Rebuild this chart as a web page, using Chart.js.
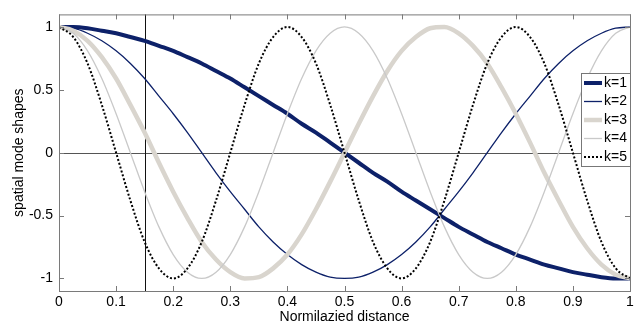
<!DOCTYPE html>
<html lang="en">
<head>
<meta charset="UTF-8">
<title>Spatial mode shapes</title>
<script src="https://cdn.jsdelivr.net/npm/chart.js"></script>
<style>
  body { margin: 0; background: #fff; }
  canvas { display: block; }
</style>
</head>
<body>
<canvas id="modeChart" width="643" height="331"></canvas>
<script>
// normalized distance samples (step 0.025)
const distance = [0,0.025,0.05,0.075,0.1,0.125,0.15,0.175,0.2,0.225,0.25,0.275,0.3,0.325,0.35,0.375,0.4,0.425,0.45,0.475,
                  0.5,0.525,0.55,0.575,0.6,0.625,0.65,0.675,0.7,0.725,0.75,0.775,0.8,0.825,0.85,0.875,0.9,0.925,0.95,0.975,1];

// mode shapes
const k1 = [1,1,0.99,0.97,0.95,0.92,0.89,0.85,0.81,0.76,0.71,0.65,0.59,0.52,0.45,0.38,0.31,0.23,0.16,0.08,
            0,-0.08,-0.16,-0.23,-0.31,-0.38,-0.45,-0.52,-0.59,-0.65,-0.71,-0.76,-0.81,-0.85,-0.89,-0.92,-0.95,-0.97,-0.99,-1,-1];
const k2 = [1,0.99,0.95,0.89,0.81,0.71,0.59,0.45,0.31,0.16,0,-0.16,-0.31,-0.45,-0.59,-0.71,-0.81,-0.89,-0.95,-0.99,
            -1,-0.99,-0.95,-0.89,-0.81,-0.71,-0.59,-0.45,-0.31,-0.16,0,0.16,0.31,0.45,0.59,0.71,0.81,0.89,0.95,0.99,1];
const k3 = [1,0.97,0.89,0.76,0.59,0.38,0.16,-0.08,-0.31,-0.52,-0.71,-0.85,-0.95,-1,-0.99,-0.92,-0.81,-0.65,-0.45,-0.23,
            0,0.23,0.45,0.65,0.81,0.92,0.99,1,0.95,0.85,0.71,0.52,0.31,0.08,-0.16,-0.38,-0.59,-0.76,-0.89,-0.97,-1];
const k4 = [1,0.95,0.81,0.59,0.31,0,-0.31,-0.59,-0.81,-0.95,-1,-0.95,-0.81,-0.59,-0.31,0,0.31,0.59,0.81,0.95,
            1,0.95,0.81,0.59,0.31,0,-0.31,-0.59,-0.81,-0.95,-1,-0.95,-0.81,-0.59,-0.31,0,0.31,0.59,0.81,0.95,1];
const k5 = [1,0.92,0.71,0.38,0,-0.38,-0.71,-0.92,-1,-0.92,-0.71,-0.38,0,0.38,0.71,0.92,1,0.92,0.71,0.38,
            0,-0.38,-0.71,-0.92,-1,-0.92,-0.71,-0.38,0,0.38,0.71,0.92,1,0.92,0.71,0.38,0,-0.38,-0.71,-0.92,-1];

const xTicks = [0,0.1,0.2,0.3,0.4,0.5,0.6,0.7,0.8,0.9,1];
const yTicks = [-1,-0.5,0,0.5,1];
const markerX = 0.15;

const FONT = { family: 'Arial, "Liberation Sans", sans-serif', size: 14 };

function toPoints(values) {
    return values.map((v, i) => ({ x: distance[i], y: v }));
}

function series(label, values, color, width, dash, order) {
    return {
        label: label,
        data: toPoints(values),
        borderColor: color,
        backgroundColor: color,
        borderWidth: width,
        borderDash: dash,
        pointRadius: 0,
        fill: false,
        cubicInterpolationMode: 'monotone',
        order: order
    };
}

// zero line + vertical marker, under the curves
const guideLines = {
    id: 'guideLines',
    beforeDatasetsDraw(chart) {
        const { ctx, chartArea: a, scales: { x, y } } = chart;
        ctx.save();
        ctx.lineWidth = 1;
        ctx.strokeStyle = '#555';
        const y0 = Math.round(y.getPixelForValue(0)) + 0.5;
        ctx.beginPath(); ctx.moveTo(a.left, y0); ctx.lineTo(a.right, y0); ctx.stroke();
        ctx.strokeStyle = '#111';
        const xm = Math.round(x.getPixelForValue(markerX)) + 0.5;
        ctx.beginPath(); ctx.moveTo(xm, a.top); ctx.lineTo(xm, a.bottom); ctx.stroke();
        ctx.restore();
    }
};

// matlab style box with inward ticks
const frame = {
    id: 'frame',
    afterDatasetsDraw(chart) {
        const { ctx, chartArea: a, scales: { x, y } } = chart;
        const tl = 5;
        ctx.save();
        ctx.strokeStyle = '#7a7a7a';
        ctx.lineWidth = 1;
        ctx.strokeRect(a.left + 0.5, a.top + 0.5, a.right - a.left, a.bottom - a.top);
        ctx.beginPath();
        xTicks.forEach(v => {
            const px = Math.round(x.getPixelForValue(v)) + 0.5;
            ctx.moveTo(px, a.bottom); ctx.lineTo(px, a.bottom - tl);
            ctx.moveTo(px, a.top); ctx.lineTo(px, a.top + tl);
        });
        yTicks.forEach(v => {
            const py = Math.round(y.getPixelForValue(v)) + 0.5;
            ctx.moveTo(a.left, py); ctx.lineTo(a.left + tl, py);
            ctx.moveTo(a.right, py); ctx.lineTo(a.right - tl, py);
        });
        ctx.stroke();
        ctx.restore();
    }
};

// legend box inside the axes, right side
const boxLegend = {
    id: 'boxLegend',
    afterDraw(chart) {
        const { ctx, chartArea: a } = chart;
        const sets = chart.data.datasets;
        const w = 49, rowH = 18.5, top = 73;
        const left = a.right - w;
        const h = rowH * sets.length + 0.5;
        ctx.save();
        ctx.fillStyle = '#fff';
        ctx.fillRect(left, top, w, h);
        ctx.strokeStyle = '#777';
        ctx.lineWidth = 1;
        ctx.strokeRect(left + 0.5, top + 0.5, w, h);
        ctx.font = FONT.size + 'px ' + FONT.family;
        ctx.textBaseline = 'middle';
        ctx.fillStyle = '#000';
        sets.forEach((ds, i) => {
            const cy = top + 10 + i * rowH;
            ctx.strokeStyle = ds.borderColor;
            ctx.lineWidth = ds.borderWidth;
            ctx.setLineDash(ds.borderDash || []);
            ctx.beginPath(); ctx.moveTo(left + 3, cy); ctx.lineTo(left + 21, cy); ctx.stroke();
            ctx.setLineDash([]);
            ctx.fillText(ds.label, left + 23, cy);
        });
        ctx.restore();
    }
};

new Chart(document.getElementById('modeChart'), {
    type: 'line',
    data: {
        datasets: [
            series('k=1', k1, '#0d2169', 4, [], 4),
            series('k=2', k2, '#0d2169', 1.3, [], 3),
            series('k=3', k3, '#d9d5ce', 4.5, [], 2),
            series('k=4', k4, '#c9c9c9', 1.3, [], 1),
            series('k=5', k5, '#000000', 2, [2, 2], 0)
        ]
    },
    options: {
        responsive: false,
        animation: false,
        layout: { padding: { top: 4, right: 13, left: 0, bottom: 0 } },
        plugins: { legend: { display: false }, tooltip: { enabled: false } },
        scales: {
            x: {
                type: 'linear',
                min: 0,
                max: 1,
                afterBuildTicks: s => { s.ticks = xTicks.map(v => ({ value: v })); },
                afterFit: s => { s.height = 40; },
                grid: { display: false, drawTicks: false },
                border: { display: false },
                ticks: { color: '#000', font: FONT, padding: 3, maxRotation: 0, autoSkip: false, callback: v => String(v) },
                title: { display: true, text: 'Normilazied distance', color: '#000', font: FONT, padding: { top: 0, bottom: 5 } }
            },
            y: {
                type: 'linear',
                min: -1.1,
                max: 1.1,
                afterBuildTicks: s => { s.ticks = yTicks.map(v => ({ value: v })); },
                afterFit: s => { s.width = 59; },
                grid: { display: false, drawTicks: false },
                border: { display: false },
                ticks: { color: '#000', font: FONT, padding: 6, callback: v => String(v) },
                title: { display: true, text: 'spatial mode shapes', color: '#000', font: FONT, padding: { top: 11, bottom: 0 } }
            }
        }
    },
    plugins: [guideLines, frame, boxLegend]
});
</script>
</body>
</html>
